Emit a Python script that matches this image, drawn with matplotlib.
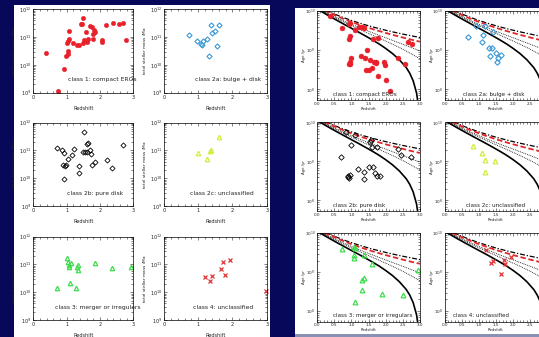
import matplotlib
matplotlib.use('Agg')
import matplotlib.pyplot as plt
from matplotlib.patches import Rectangle
from matplotlib.ticker import MultipleLocator, LogLocator, NullFormatter
import numpy as np

# ---------------- data: left panel (total stellar mass, log10 Msun) ----------------
c1_z = [0.37, 0.75, 0.93, 0.97, 1.00, 1.03, 1.05, 1.06, 1.08, 1.05, 1.18, 1.30, 1.37, 1.43, 1.47,
        1.50, 1.48, 1.52, 1.58, 1.60, 1.65, 1.70, 1.75, 1.78, 1.80, 1.83, 1.85, 2.05, 2.05,
        2.17, 2.40, 2.57, 2.70, 2.78]
c1_m = [10.44, 9.06, 9.84, 10.32, 10.80, 10.87, 10.51, 10.92, 11.22, 10.40, 10.78, 10.72, 10.72, 11.47, 11.46,
        11.68, 10.78, 10.90, 11.20, 10.84, 10.92, 11.41, 11.38, 11.10, 10.92, 11.26, 11.18, 10.90, 10.81,
        11.44, 11.52, 11.47, 11.52, 10.90]

c2a_z = [0.73, 0.95, 1.08, 1.10, 1.15, 1.27, 1.32, 1.36, 1.39, 1.49, 1.54, 1.62]
c2a_m = [11.08, 10.87, 10.74, 10.72, 10.87, 10.93, 10.32, 11.44, 11.16, 11.22, 10.68, 11.44]

c2b_z = [0.72, 0.87, 0.92, 0.90, 0.95, 0.97, 0.93, 1.04, 1.15, 1.22, 1.37, 1.37, 1.53, 1.50, 1.56,
         1.60, 1.62, 1.65, 1.70, 1.74, 1.75, 1.84, 2.22, 2.37, 2.70]
c2b_m = [11.08, 11.00, 10.92, 10.48, 10.44, 10.46, 9.96, 10.69, 10.84, 11.05, 10.44, 10.20, 11.68, 10.94, 10.94,
         10.94, 11.23, 11.26, 11.02, 10.86, 10.48, 10.57, 10.66, 10.36, 11.20]

c2c_z = [0.98, 1.25, 1.34, 1.37, 1.62]
c2c_m = [10.90, 10.69, 10.98, 11.02, 11.50]

c3_z = [0.72, 1.02, 1.05, 1.06, 1.07, 1.12, 1.11, 1.28, 1.30, 1.33, 1.35, 1.84, 2.36, 2.93]
c3_m = [10.16, 11.22, 11.10, 10.98, 10.90, 11.06, 10.32, 10.16, 10.90, 10.97, 10.80, 11.04, 10.86, 10.90]

c4_z = [1.20, 1.33, 1.40, 1.67, 1.72, 1.77, 1.92, 2.98]
c4_m = [10.54, 10.42, 10.60, 10.84, 11.08, 10.63, 11.16, 10.05]

# ---------------- data: right panel (age, log10 yr) ----------------
a1_z = [0.37, 0.74, 0.93, 0.95, 0.93, 0.95, 0.93, 0.97, 0.98, 0.97, 1.10, 1.23, 1.32, 1.37, 1.28,
        1.39, 1.44, 1.52, 1.59, 1.46, 1.54, 1.64, 1.67, 1.71, 1.73, 1.78, 1.78, 1.96, 1.98, 2.00,
        2.12, 2.37, 2.56, 2.64, 2.76]
a1_t = [9.86, 9.57, 9.67, 9.70, 9.28, 9.35, 8.65, 8.65, 8.79, 8.71, 9.52, 9.60, 9.60, 9.56, 8.85,
        8.79, 8.49, 8.49, 8.54, 9.00, 8.75, 9.28, 8.71, 8.67, 8.71, 9.30, 8.34, 8.69, 8.62, 8.24,
        7.97, 8.81, 8.65, 9.22, 9.16]

a2a_z = [0.69, 0.91, 1.18, 1.11, 1.10, 1.29, 1.37, 1.32, 1.40, 1.50, 1.55, 1.54, 1.64]
a2a_t = [9.33, 9.62, 9.63, 9.39, 9.22, 9.05, 9.05, 8.85, 9.47, 8.94, 8.81, 8.71, 8.89]

a2b_z = [0.69, 0.84, 0.99, 1.11, 0.91, 0.93, 0.89, 0.95, 1.18, 1.36, 1.36, 1.53, 1.56, 1.59, 1.51,
         1.63, 1.68, 1.74, 1.83, 1.74, 2.37, 2.45, 2.73]
a2b_t = [9.12, 9.75, 9.43, 9.69, 8.62, 8.58, 8.60, 8.65, 8.81, 8.72, 8.55, 9.49, 9.56, 9.36, 8.86,
         8.86, 8.71, 8.62, 8.62, 9.37, 9.33, 9.16, 9.11]

a2c_z = [0.83, 1.10, 1.19, 1.48, 1.17]
a2c_t = [9.40, 9.22, 9.05, 9.00, 8.72]

a3_z = [0.73, 1.07, 1.12, 1.09, 1.07, 1.36, 1.59, 1.31, 1.36, 1.30, 1.12, 1.88, 2.50, 2.94]
a3_t = [9.60, 9.66, 9.63, 9.45, 9.36, 9.45, 9.21, 8.81, 8.85, 8.55, 8.24, 8.44, 8.41, 9.05]

a4_z = [1.20, 1.36, 1.42, 1.73, 1.76, 1.93, 1.66]
a4_t = [9.57, 9.25, 9.28, 9.32, 9.21, 9.38, 8.95]

# model age curves (Gyr)
curve_z = [0.0, 0.2, 0.4, 0.6, 0.8, 1.0, 1.2, 1.4, 1.6, 1.8, 2.0, 2.2, 2.4, 2.6, 2.8, 3.0]
age_dashdot = [13.47, 11.03, 9.18, 7.76, 6.64, 5.75, 5.04, 4.45, 3.97, 3.57, 3.23, 2.94, 2.69, 2.47, 2.28, 2.11]
age_reddash = [13.00, 10.56, 8.71, 7.29, 6.17, 5.28, 4.57, 3.98, 3.50, 3.10, 2.76, 2.47, 2.22, 2.00, 1.81, 1.65]
age_dot1 = [12.32, 9.88, 8.03, 6.61, 5.49, 4.60, 3.89, 3.30, 2.82, 2.41, 2.08, 1.78, 1.53, 1.31, 1.12, 0.96]
age_dot2 = [11.95, 9.51, 7.66, 6.24, 5.12, 4.23, 3.52, 2.93, 2.45, 2.05, 1.71, 1.42, 1.17, 0.95, 0.76, 0.60]
solid_z = [0.0, 0.2, 0.4, 0.6, 0.8, 1.0, 1.2, 1.4, 1.6, 1.8, 2.0, 2.2, 2.4, 2.6, 2.7, 2.8, 2.9, 2.95]
age_solid = [11.36, 8.92, 7.07, 5.65, 4.53, 3.64, 2.93, 2.34, 1.86, 1.46, 1.11, 0.82, 0.57, 0.36, 0.26, 0.167, 0.081, 0.040]

class_labels = ["class 1: compact EROs", "class 2a: bulge + disk", "class 2b: pure disk",
                "class 2c: unclassified", "class 3: merger or irregulars", "class 4: unclassified"]

# ---------------- figure ----------------
W, H = 539, 337
fig = plt.figure(figsize=(W / 100, H / 100), dpi=100)
fig.patch.set_facecolor('#08085a')

def rect(x0, y0, x1, y1, color):
    fig.patches.append(Rectangle((x0 / W, 1 - y1 / H), (x1 - x0) / W, (y1 - y0) / H,
                                 transform=fig.transFigure, facecolor=color, edgecolor='none', zorder=-10))

rect(14, 5, 270, 337, 'white')
rect(295, 8, 539, 334, 'white')
rect(295, 334, 539, 337, '#8a90b4')

def px_axes(x0, y0, x1, y1):
    ax = fig.add_axes([x0 / W, 1 - y1 / H, (x1 - x0) / W, (y1 - y0) / H])
    ax.patch.set_alpha(0)
    ax.set_zorder(2)
    for s in ax.spines.values():
        s.set_linewidth(0.5)
    return ax

TXT = '#222222'

def style_left(ax, label, lx):
    ax.set_yscale('log')
    ax.set_xlim(0, 3)
    ax.set_ylim(1e9, 1e12)
    ax.set_xticks([0, 1, 2, 3])
    ax.set_xticklabels(['0', '1', '2', '3'])
    ax.xaxis.set_minor_locator(MultipleLocator(0.2))
    ax.set_yticks([1e9, 1e10, 1e11, 1e12])
    ax.set_yticklabels(['$10^{9}$', '$10^{10}$', '$10^{11}$', '$10^{12}$'])
    ax.yaxis.set_minor_locator(LogLocator(base=10, subs=np.arange(2, 10)))
    ax.yaxis.set_minor_formatter(NullFormatter())
    ax.tick_params(which='both', direction='in', top=True, right=True, width=0.4,
                   labelsize=3.5, pad=1.5, colors=TXT)
    ax.tick_params(which='major', length=2.5)
    ax.tick_params(which='minor', length=1.2)
    ax.set_xlabel('Redshift', fontsize=3.6, color=TXT)
    ax.xaxis.set_label_coords(0.5, -0.155)
    ax.set_ylabel(r'total stellar mass /M$_{\odot}$', fontsize=3.2, color=TXT)
    ax.yaxis.set_label_coords(-0.15, 0.5)
    ax.text(lx, 0.155, label, transform=ax.transAxes, fontsize=4.3, color=TXT, va='center', ha='left')

def style_right(ax, label, lx, last_col):
    ax.set_yscale('log')
    ax.set_xlim(0, 3)
    ax.set_ylim(10 ** 7.73, 1e10)
    ax.set_xticks([0, 0.5, 1, 1.5, 2, 2.5, 3])
    labs = ['0.0', '0.5', '1.0', '1.5', '2.0', '2.5', '3.0']
    if last_col:
        labs[-1] = ''
    ax.set_xticklabels(labs)
    ax.xaxis.set_minor_locator(MultipleLocator(0.1))
    ax.set_yticks([1e8, 1e9, 1e10])
    ax.set_yticklabels(['$10^{8}$', '$10^{9}$', '$10^{10}$'])
    ax.yaxis.set_minor_locator(LogLocator(base=10, subs=np.arange(2, 10)))
    ax.yaxis.set_minor_formatter(NullFormatter())
    ax.tick_params(which='both', direction='in', top=True, right=True, width=0.4,
                   labelsize=3.0, pad=1.2, colors=TXT)
    ax.tick_params(which='major', length=2.5)
    ax.tick_params(which='minor', length=1.2)
    ax.set_xlabel('Redshift', fontsize=2.8, color=TXT)
    ax.xaxis.set_label_coords(0.5, -0.075)
    ax.set_ylabel('Age /yr', fontsize=2.8, color=TXT)
    ax.yaxis.set_label_coords(-0.105, 0.5)
    ax.text(lx, 0.065, label, transform=ax.transAxes, fontsize=4.1, color=TXT, va='center', ha='left')
    cz = np.array(curve_z)
    ax.plot(cz, np.array(age_dot2) * 1e9, color='black', ls=(0, (1, 1.2)), lw=0.6)
    ax.plot(cz, np.array(age_dot1) * 1e9, color='black', ls=(0, (1, 1.2)), lw=0.6)
    ax.plot(cz, np.array(age_dashdot) * 1e9, color='black', ls=(0, (4, 1.5, 1, 1.5)), lw=0.9)
    ax.plot(cz, np.array(age_reddash) * 1e9, color='#e02828', ls=(0, (3, 1.5)), lw=1.3)
    ax.plot(solid_z, np.array(age_solid) * 1e9, color='black', ls='-', lw=1.2)

RED = '#e8202a'
BLUE = '#3a98d8'
YEL = '#d4ec3c'
GRN = '#40dc50'
RED4 = '#dd3535'

series_left = [
    (c1_z, c1_m, dict(marker='o', ms=3.2, mfc=RED, mec=RED, mew=0.3)),
    (c2a_z, c2a_m, dict(marker='D', ms=2.6, mfc='none', mec=BLUE, mew=0.8)),
    (c2b_z, c2b_m, dict(marker='D', ms=2.6, mfc='none', mec='black', mew=0.6)),
    (c2c_z, c2c_m, dict(marker='^', ms=3.2, mfc='none', mec=YEL, mew=0.9)),
    (c3_z, c3_m, dict(marker='^', ms=3.2, mfc='none', mec=GRN, mew=0.9)),
    (c4_z, c4_m, dict(marker='x', ms=3.0, mfc='none', mec=RED4, mew=0.9)),
]
series_right = [
    (a1_z, a1_t, dict(marker='o', ms=3.6, mfc=RED, mec=RED, mew=0.3)),
    (a2a_z, a2a_t, dict(marker='D', ms=2.8, mfc='none', mec=BLUE, mew=0.8)),
    (a2b_z, a2b_t, dict(marker='D', ms=2.8, mfc='none', mec='black', mew=0.6)),
    (a2c_z, a2c_t, dict(marker='^', ms=3.4, mfc='none', mec=YEL, mew=0.9)),
    (a3_z, a3_t, dict(marker='^', ms=3.4, mfc='none', mec=GRN, mew=0.9)),
    (a4_z, a4_t, dict(marker='x', ms=3.2, mfc='none', mec=RED4, mew=0.9)),
]

left_cols = [(33.3, 133.3), (164.0, 266.7)]
left_rows = [(9.3, 92.7), (122.7, 206.0), (236.7, 320.0)]
right_cols = [(317.0, 420.0), (444.5, 547.5)]
right_rows = [(11.0, 100.0), (122.5, 211.0), (233.3, 321.7)]

left_lx = [0.35, 0.30, 0.34, 0.25, 0.22, 0.28]
right_lx = [0.16, 0.18, 0.16, 0.21, 0.16, 0.08]

for i in range(6):
    r, c = divmod(i, 2)
    ax = px_axes(left_cols[c][0], left_rows[r][0], left_cols[c][1], left_rows[r][1])
    zs, ms, kw = series_left[i]
    ax.plot(zs, 10 ** np.array(ms), ls='none', clip_on=False, **kw)
    style_left(ax, class_labels[i], left_lx[i])

for i in range(6):
    r, c = divmod(i, 2)
    ax = px_axes(right_cols[c][0], right_rows[r][0], right_cols[c][1], right_rows[r][1])
    style_right(ax, class_labels[i], right_lx[i], c == 1)
    zs, ts, kw = series_right[i]
    ax.plot(zs, 10 ** np.array(ts), ls='none', **kw)

fig.savefig('out.png', dpi=100, facecolor=fig.get_facecolor())
